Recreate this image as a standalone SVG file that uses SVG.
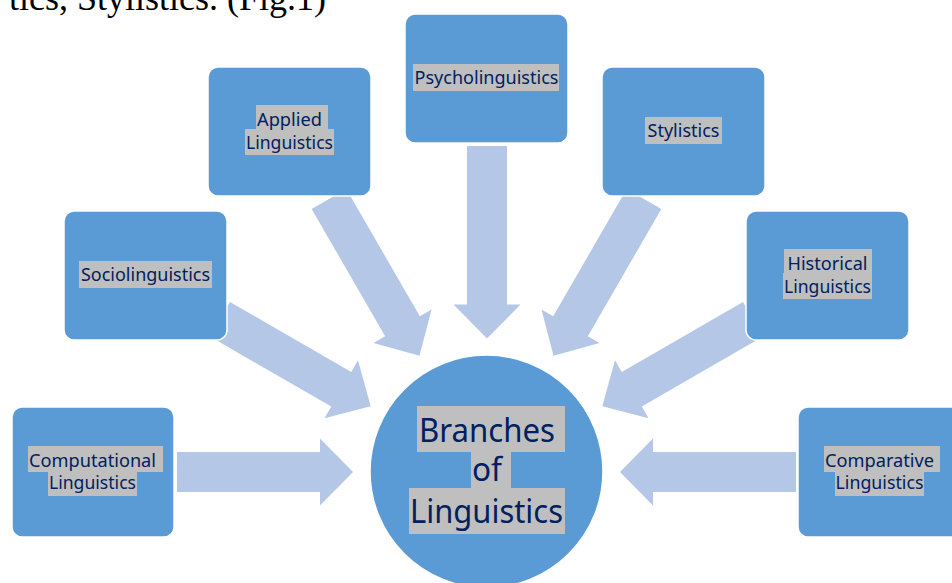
<svg xmlns="http://www.w3.org/2000/svg" width="952" height="583" viewBox="0 0 952 583">
  <style>
    .caption { font-family: "Liberation Serif", "Times New Roman", serif; font-size: 36px; fill: #000; }
    .arrow { fill: #B4C7E7; }
    .box { fill: #5B9BD5; stroke: #FFFFFF; stroke-width: 1.5; }
    .hub { fill: #5B9BD5; stroke: #FFFFFF; stroke-width: 1.5; }
    .hl { fill: #BFBFBF; }
    .lbl { font-family: "Noto Sans", "Open Sans", sans-serif; font-size: 18.5px; fill: #002060; text-anchor: middle; }
    .hubtxt { font-family: "Noto Sans", "Open Sans", sans-serif; font-size: 32px; fill: #002060; text-anchor: middle; }
  </style>

  <rect x="0" y="0" width="952" height="583" fill="#FFFFFF"/>

  <!-- running text of the page above the figure -->
  <text class="caption" x="326" y="10" text-anchor="end">tics, Stylistics. (Fig.1)</text>

  <!-- block arrows pointing toward the hub -->
  <g id="connectors">
    <path class="arrow" transform="translate(177,472)" d="M0,-20 H143 V-33.5 L176,0 L143,33.5 V20 H0 Z"/>
    <path class="arrow" transform="translate(796,472) rotate(180)" d="M0,-20 H143 V-33.5 L176,0 L143,33.5 V20 H0 Z"/>
    <path class="arrow" transform="translate(487,146) rotate(90)" d="M0,-20 H158.5 V-33.5 L192.5,0 L158.5,33.5 V20 H0 Z"/>
    <path class="arrow" transform="translate(329,199) rotate(60)" d="M0,-20 H147 V-33.5 L181,0 L147,33.5 V20 H0 Z"/>
    <path class="arrow" transform="translate(644,199) rotate(120)" d="M0,-20 H147 V-33.5 L181,0 L147,33.5 V20 H0 Z"/>
    <path class="arrow" transform="translate(220,319.3) rotate(30)" d="M0,-20 H140 V-33.5 L174,0 L140,33.5 V20 H0 Z"/>
    <path class="arrow" transform="translate(753,319.3) rotate(150)" d="M0,-20 H140 V-33.5 L174,0 L140,33.5 V20 H0 Z"/>
  </g>

  <g id="hub">
    <circle class="hub" cx="486.5" cy="471.5" r="116.5"/>
    <rect class="hl" x="417" y="406" width="148" height="46"/>
    <rect class="hl" x="471" y="452" width="40" height="36"/>
    <rect class="hl" x="409" y="488" width="156" height="46"/>
    <text class="hubtxt" x="487" y="442" textLength="136" lengthAdjust="spacingAndGlyphs">Branches</text>
    <text class="hubtxt" x="487" y="481" textLength="30" lengthAdjust="spacingAndGlyphs">of</text>
    <text class="hubtxt" x="486.5" y="523" textLength="153" lengthAdjust="spacingAndGlyphs">Linguistics</text>
  </g>

  <g id="psycholinguistics">
    <rect class="box" x="405" y="14" width="163" height="129" rx="10"/>
    <rect class="hl" x="413" y="64" width="146" height="27"/>
    <text class="lbl" x="486.5" y="84" textLength="144" lengthAdjust="spacingAndGlyphs">Psycholinguistics</text>
  </g>

  <g id="applied">
    <rect class="box" x="208" y="67" width="163" height="129" rx="10"/>
    <rect class="hl" x="256" y="105" width="72" height="24"/>
    <rect class="hl" x="245" y="129" width="89" height="26"/>
    <text class="lbl" x="289.5" y="126" textLength="65" lengthAdjust="spacingAndGlyphs">Applied</text>
    <text class="lbl" x="289.5" y="149" textLength="87" lengthAdjust="spacingAndGlyphs">Linguistics</text>
  </g>

  <g id="stylistics">
    <rect class="box" x="602" y="67" width="163" height="129" rx="10"/>
    <rect class="hl" x="645" y="117" width="77" height="27"/>
    <text class="lbl" x="683.5" y="137" textLength="72" lengthAdjust="spacingAndGlyphs">Stylistics</text>
  </g>

  <g id="sociolinguistics">
    <rect class="box" x="64" y="211" width="163" height="129" rx="10"/>
    <rect class="hl" x="79" y="261" width="133" height="27"/>
    <text class="lbl" x="145.5" y="281" textLength="129" lengthAdjust="spacingAndGlyphs">Sociolinguistics</text>
  </g>

  <g id="historical">
    <rect class="box" x="746" y="211" width="163" height="129" rx="10"/>
    <rect class="hl" x="784" y="249" width="88" height="24"/>
    <rect class="hl" x="783" y="273" width="89" height="26"/>
    <text class="lbl" x="827.5" y="270" textLength="80" lengthAdjust="spacingAndGlyphs">Historical</text>
    <text class="lbl" x="827.5" y="293" textLength="87" lengthAdjust="spacingAndGlyphs">Linguistics</text>
  </g>

  <g id="computational">
    <rect class="box" x="12" y="407" width="162" height="130" rx="10"/>
    <rect class="hl" x="28" y="446" width="135" height="26"/>
    <rect class="hl" x="48" y="472" width="89" height="24"/>
    <text class="lbl" x="92.5" y="467" textLength="127" lengthAdjust="spacingAndGlyphs">Computational</text>
    <text class="lbl" x="92.5" y="489" textLength="87" lengthAdjust="spacingAndGlyphs">Linguistics</text>
  </g>

  <g id="comparative">
    <rect class="box" x="798" y="407" width="163" height="130" rx="10"/>
    <rect class="hl" x="824" y="446" width="116" height="26"/>
    <rect class="hl" x="835" y="472" width="89" height="24"/>
    <text class="lbl" x="879.5" y="467" textLength="109" lengthAdjust="spacingAndGlyphs">Comparative</text>
    <text class="lbl" x="879.5" y="489" textLength="88" lengthAdjust="spacingAndGlyphs">Linguistics</text>
  </g>
</svg>
